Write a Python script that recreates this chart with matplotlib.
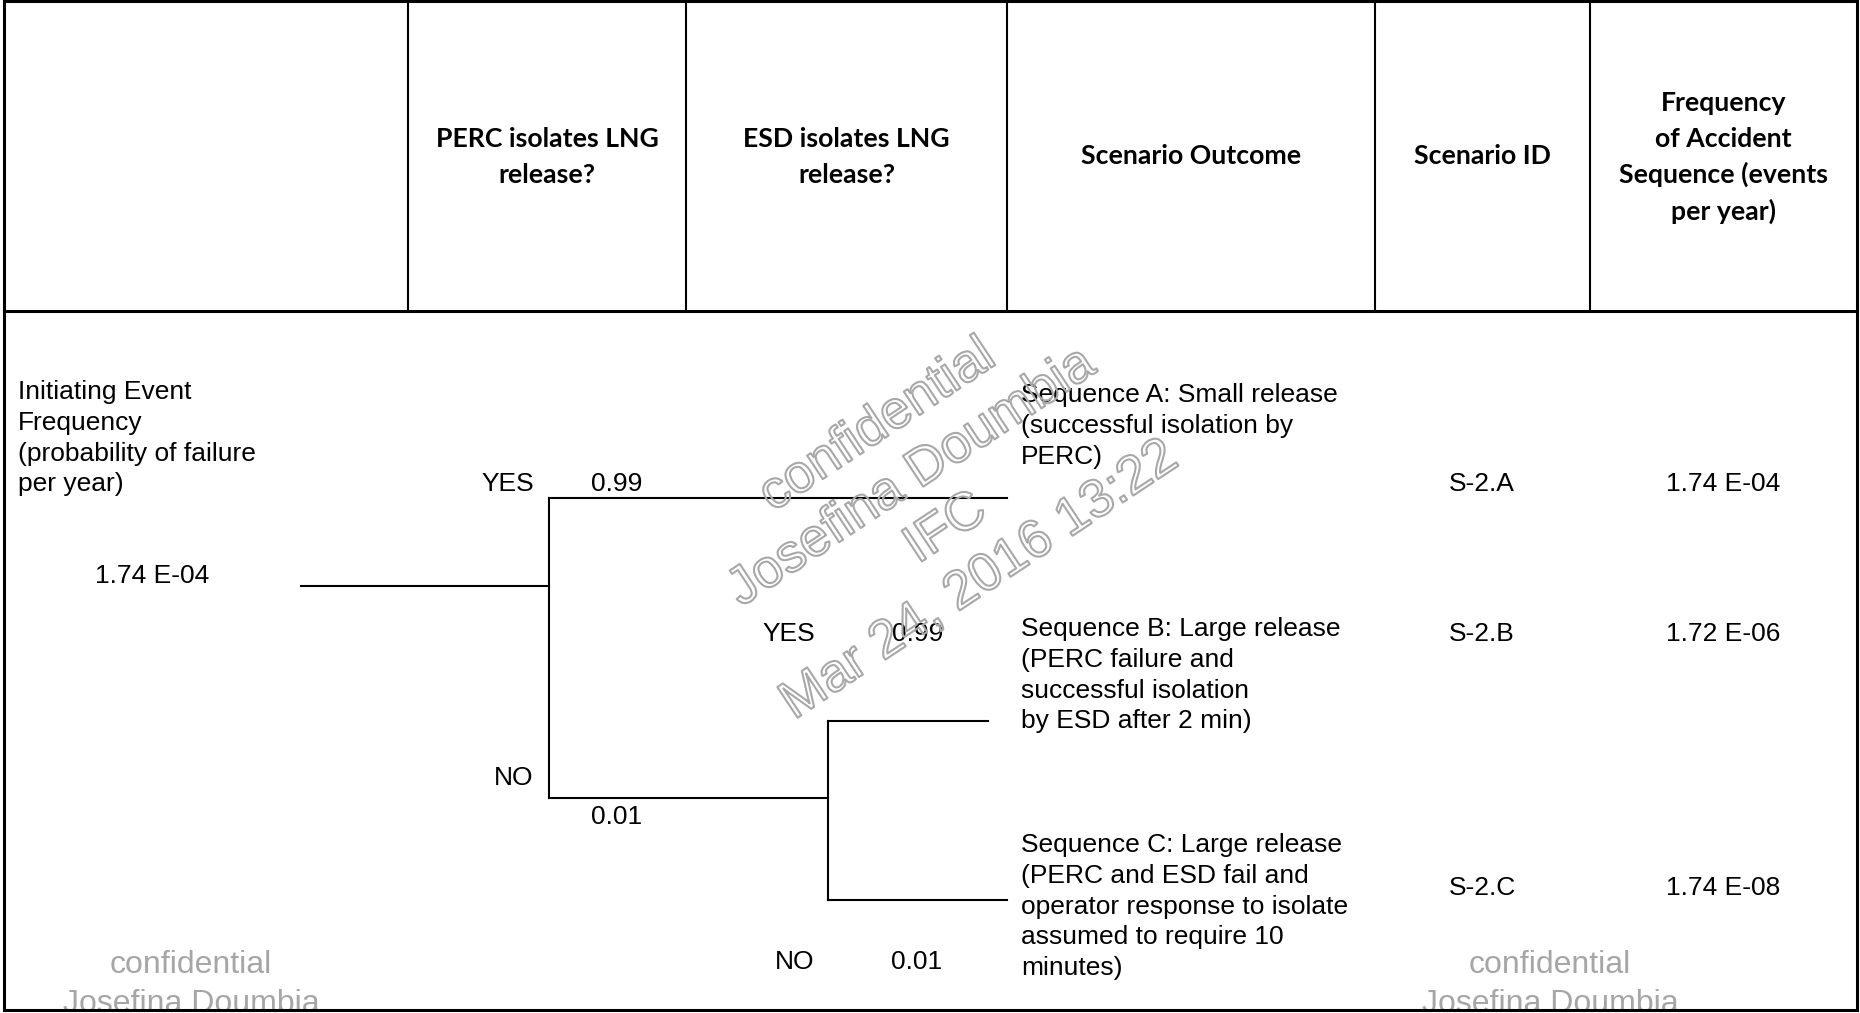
import matplotlib.pyplot as plt
import matplotlib.patheffects as pe

header_texts = [
    ["PERC isolates LNG", "release?"],
    ["ESD isolates LNG", "release?"],
    ["Scenario Outcome"],
    ["Scenario ID"],
    ["Frequency", "of Accident", "Sequence (events", "per year)"],
]
init_label = ["Initiating Event", "Frequency", "(probability of failure", "per year)"]
init_freq = 1.74e-4
perc_branches = ["YES", "NO"]
perc_probs = [0.99, 0.01]
esd_branches = ["YES", "NO"]
esd_probs = [0.99, 0.01]
outcomes = [
    ["Sequence A: Small release", "(successful isolation by", "PERC)"],
    ["Sequence B: Large release", "(PERC failure and", "successful isolation", "by ESD after 2 min)"],
    ["Sequence C: Large release", "(PERC and ESD fail and", "operator response to isolate",
     "assumed to require 10", "minutes)"],
]
scenario_ids = ["S-2.A", "S-2.B", "S-2.C"]
seq_freqs = [1.74e-4, 1.72e-6, 1.74e-8]
stamp = ["confidential", "Josefina Doumbia", "IFC", "Mar 24, 2016 13:22"]


def fmt(v):
    return f"{v:.2E}".replace("E", " E")


def fmt_p(p):
    return f"{p:.2f}"


# ---- layout (pixel coordinates) ----
W, H = 1860, 1013
col_x = [4, 408, 686, 1007, 1375, 1590, 1857]
head_y = 311
body_font = "Liberation Sans"
head_font = "Lato"
FS = 19
LH = 30.8
DY = 2  # small baseline nudge for body text

fig = plt.figure(figsize=(W / 100, H / 100), dpi=100)
ax = fig.add_axes([0, 0, 1, 1])
ax.set_xlim(0, W)
ax.set_ylim(H, 0)
ax.axis("off")

lw_thick, lw = 2.2, 1.5
# table frame
ax.plot([col_x[0], col_x[-1], col_x[-1], col_x[0], col_x[0]], [1, 1, 1010, 1010, 1],
        color="black", lw=lw_thick, solid_joinstyle="miter", zorder=5)
ax.plot([col_x[0], col_x[-1]], [head_y, head_y], color="black", lw=lw_thick, zorder=5)
for x in col_x[1:-1]:
    ax.plot([x, x], [0, head_y], color="black", lw=lw, zorder=5)

# header text
head_y_lines = {1: [156], 2: [139, 175], 4: [103, 139, 174, 211]}
for i, lines in enumerate(header_texts):
    cx = (col_x[i + 1] + col_x[i + 2]) / 2
    for y, t in zip(head_y_lines[len(lines)], lines):
        ax.text(cx, y, t, ha="center", va="center", fontsize=19.2, fontweight="bold",
                family=head_font)

# initiating event
for k, t in enumerate(init_label):
    ax.text(18, 390 + DY + k * LH, t, ha="left", va="center", fontsize=FS, family=body_font)
ax.text(152, 574 + DY, fmt(init_freq), ha="center", va="center", fontsize=FS, family=body_font)

# tree branches
x0, xn1, xn2 = 301, 549, 828
y_init, y_yes1, y_no1, y_yes2, y_no2 = 586, 498, 798, 721, 900
tree = dict(color="black", lw=lw, zorder=4)
ax.plot([x0, xn1], [y_init, y_init], **tree)
ax.plot([xn1, xn1], [y_yes1, y_no1], **tree)
ax.plot([xn1, col_x[3]], [y_yes1, y_yes1], **tree)
ax.plot([xn1, xn2], [y_no1, y_no1], **tree)
ax.plot([xn2, xn2], [y_yes2, y_no2], **tree)
ax.plot([xn2, 988], [y_yes2, y_yes2], **tree)
ax.plot([xn2, col_x[3]], [y_no2, y_no2], **tree)

# branch labels
txt = dict(ha="center", va="center", fontsize=FS, family=body_font)
ax.text(508, 482 + DY, perc_branches[0], **txt)
ax.text(617, 482 + DY, fmt_p(perc_probs[0]), **txt)
ax.text(514, 776 + DY, perc_branches[1], **txt)
ax.text(617, 815 + DY, fmt_p(perc_probs[1]), **txt)
ax.text(789, 632 + DY, esd_branches[0], **txt)
ax.text(918, 632 + DY, fmt_p(esd_probs[0]), **txt)
ax.text(795, 960 + DY, esd_branches[1], **txt)
ax.text(917, 960 + DY, fmt_p(esd_probs[1]), **txt)

# outcomes, ids, frequencies
out_y = [393, 627, 843]
row_y = [482, 632, 886]
for lines, y0 in zip(outcomes, out_y):
    for k, t in enumerate(lines):
        ax.text(1021, y0 + DY + k * LH, t, ha="left", va="center", fontsize=FS,
                family=body_font)
for sid, f, y in zip(scenario_ids, seq_freqs, row_y):
    ax.text(1482, y + DY, sid, **txt)
    ax.text(1723, y + DY, fmt(f), **txt)

# watermark stamps
for cx in (191, 1550):
    ax.text(cx, 965, stamp[0], ha="center", va="center", fontsize=23,
            family=body_font, color="#a6a6a6", zorder=1)
    ax.text(cx, 1004, stamp[1], ha="center", va="center", fontsize=23,
            family=body_font, color="#a6a6a6", zorder=1)

ax.text(929, 503, "\n".join(stamp), ha="center", va="center", ma="center",
        rotation=33.5, rotation_mode="anchor", fontsize=38.5, family=body_font,
        color=(1, 1, 1, 0), linespacing=1.3, zorder=6,
        path_effects=[pe.Stroke(linewidth=1.5, foreground="#a8a8a8")])

fig.savefig("out.png", dpi=100)
